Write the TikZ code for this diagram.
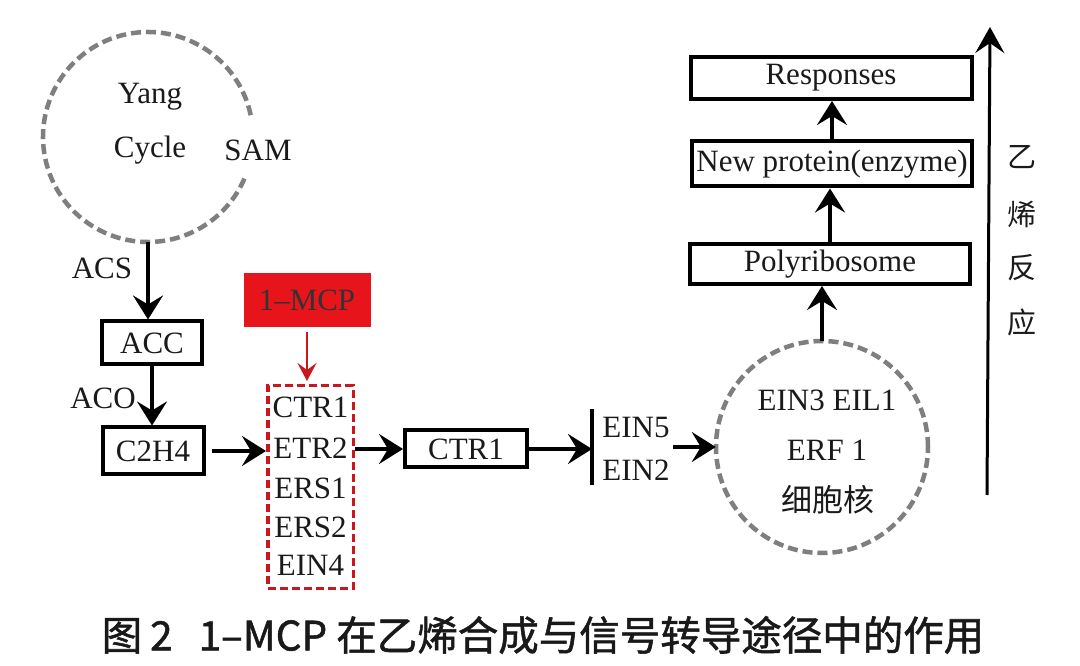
\documentclass[tikz,border=0pt]{standalone}
\usepackage{fontspec}
\setmainfont{Liberation Serif}
\newfontfamily\cjk{Noto Sans CJK SC}
\newfontfamily\cjkcap[FakeBold=1.3]{Noto Sans CJK SC}
\usetikzlibrary{arrows.meta,calc}
\definecolor{dgray}{HTML}{7F7F7F}
\definecolor{mcpred}{HTML}{E8141C}
\definecolor{boxred}{HTML}{C8171E}
\definecolor{txt}{HTML}{1A1A1A}
\tikzset{
  lbl/.style={font=\fontsize{31}{34}\selectfont, text=txt, inner sep=0},
  bx/.style={draw, line width=4pt, inner sep=0, font=\fontsize{31}{34}\selectfont, text=txt},
  graydash/.style={draw=dgray, line width=4.5pt, dash pattern=on 10pt off 5pt},
  arr/.style={line width=3.2pt, -{Stealth[length=24pt,width=30pt,inset=9pt]}},
  redarr/.style={draw=boxred, line width=2.2pt, -{Stealth[length=18pt,width=19pt,inset=7pt]}},
  cjklbl/.style={font=\cjk\fontsize{29}{34}\selectfont, text=txt, inner sep=0}
}
\begin{document}
\begin{tikzpicture}[x=1pt,y=1pt]
\useasboundingbox[fill=white] (0,0) rectangle (1080,665);

% Yang cycle
\node[circle, minimum size=210pt, inner sep=0] (yang) at (148,528) {};
\draw[graydash] ($(148,528)+(12:105)$) arc[start angle=12, end angle=337, radius=105];
\node[lbl] (yangt) at (150,568) {Yang};
\node[lbl] (cyclet) at (150,515) {Cycle};
\node[lbl] (sam) at (258,515) {SAM};

% ACC, C2H4
\node[bx, minimum width=100pt, minimum height=43pt] (acc) at (152,322) {ACC};
\node[bx, minimum width=101pt, minimum height=47pt] (c2h4) at (153,214) {C2H4};
\node[lbl] (acs) at (102,397) {ACS};
\node[lbl] (aco) at (103,267) {ACO};
\draw[arr] (yang.south) -- (yang.south |- acc.north);
\draw[arr] (acc.south) -- (acc.south |- c2h4.north);

% 1-MCP and receptors
\node[fill=mcpred, minimum width=127pt, minimum height=54pt, inner sep=0,
      font=\fontsize{31}{34}\selectfont, text=black!80] (mcp) at (307,365) {1--MCP};
\node[draw=boxred, line width=3.5pt, dash pattern=on 8pt off 4pt,
      minimum width=85.5pt, minimum height=202.5pt, inner sep=0] (recep) at (310.5,178) {};
\node[lbl] (r1) at (310.5,258) {CTR1};
\node[lbl] (r2) at (310.5,217) {ETR2};
\node[lbl] (r3) at (310.5,177) {ERS1};
\node[lbl] (r4) at (310.5,138) {ERS2};
\node[lbl] (r5) at (310.5,100) {EIN4};
\draw[redarr, shorten <=5pt, shorten >=3pt] (mcp.south) -- (mcp.south |- recep.north);
\draw[arr, shorten <=6pt] (c2h4.east) -- (c2h4.east -| recep.west);

% CTR1
\node[bx, minimum width=122pt, minimum height=37pt] (ctr1) at (466,216) {CTR1};
\draw[arr] (ctr1.west -| recep.east) -- (ctr1.west);

% bar, EIN5/EIN2
\coordinate (bartop) at (592,256);
\coordinate (barbot) at (592,180);
\draw[line width=4pt] (bartop) -- (barbot);
\draw[arr] (ctr1.east) -- (ctr1.east -| bartop);
\node[lbl] (ein5) at (636,237) {EIN5};
\node[lbl] (ein2) at (636,195) {EIN2};
\coordinate (einr) at (673,218);

% nucleus
\node[circle, minimum size=212pt, inner sep=0] (nuc) at (822,218) {};
\draw[graydash] (822,218) circle[radius=106];
\node[lbl] (ein3) at (827,265) {EIN3 EIL1};
\node[lbl] (erf) at (827,215) {ERF 1};
\node[cjklbl, font=\cjk\fontsize{31}{34}\selectfont] (xbh) at (828,165) {细胞核};
\draw[arr] (einr) -- (nuc.west);

% response chain
\node[bx, minimum width=280pt, minimum height=40pt] (poly) at (830,401) {Polyribosome};
\node[bx, minimum width=280pt, minimum height=45pt] (newp) at (832,501) {New protein(enzyme)};
\node[bx, minimum width=281pt, minimum height=42pt] (resp) at (831,587) {Responses};
\draw[arr] (nuc.north) -- (nuc.north |- poly.south);
\draw[arr] (poly.north) -- (poly.north |- newp.south);
\draw[arr] (newp.north) -- (newp.north |- resp.south);

% big arrow and vertical label
\coordinate (ybot) at (987,170);
\coordinate (ytop) at (990,638);
\draw[line width=3pt, -{Stealth[length=26pt,width=29pt,inset=10pt]}] (ybot) -- (ytop);
\node[cjklbl] (c1) at (1022,508) {乙};
\node[cjklbl] (c2) at (1022,451) {烯};
\node[cjklbl] (c3) at (1022,397) {反};
\node[cjklbl] (c4) at (1022,343) {应};

% caption
\node[font=\cjkcap\fontsize{40.5}{44}\selectfont, text=black!90, inner sep=0] (cap) at (543,30)
  {图\hspace{8pt}2\hspace{26pt}1–MCP 在乙烯合成与信号转导途径中的作用};
\end{tikzpicture}
\end{document}
